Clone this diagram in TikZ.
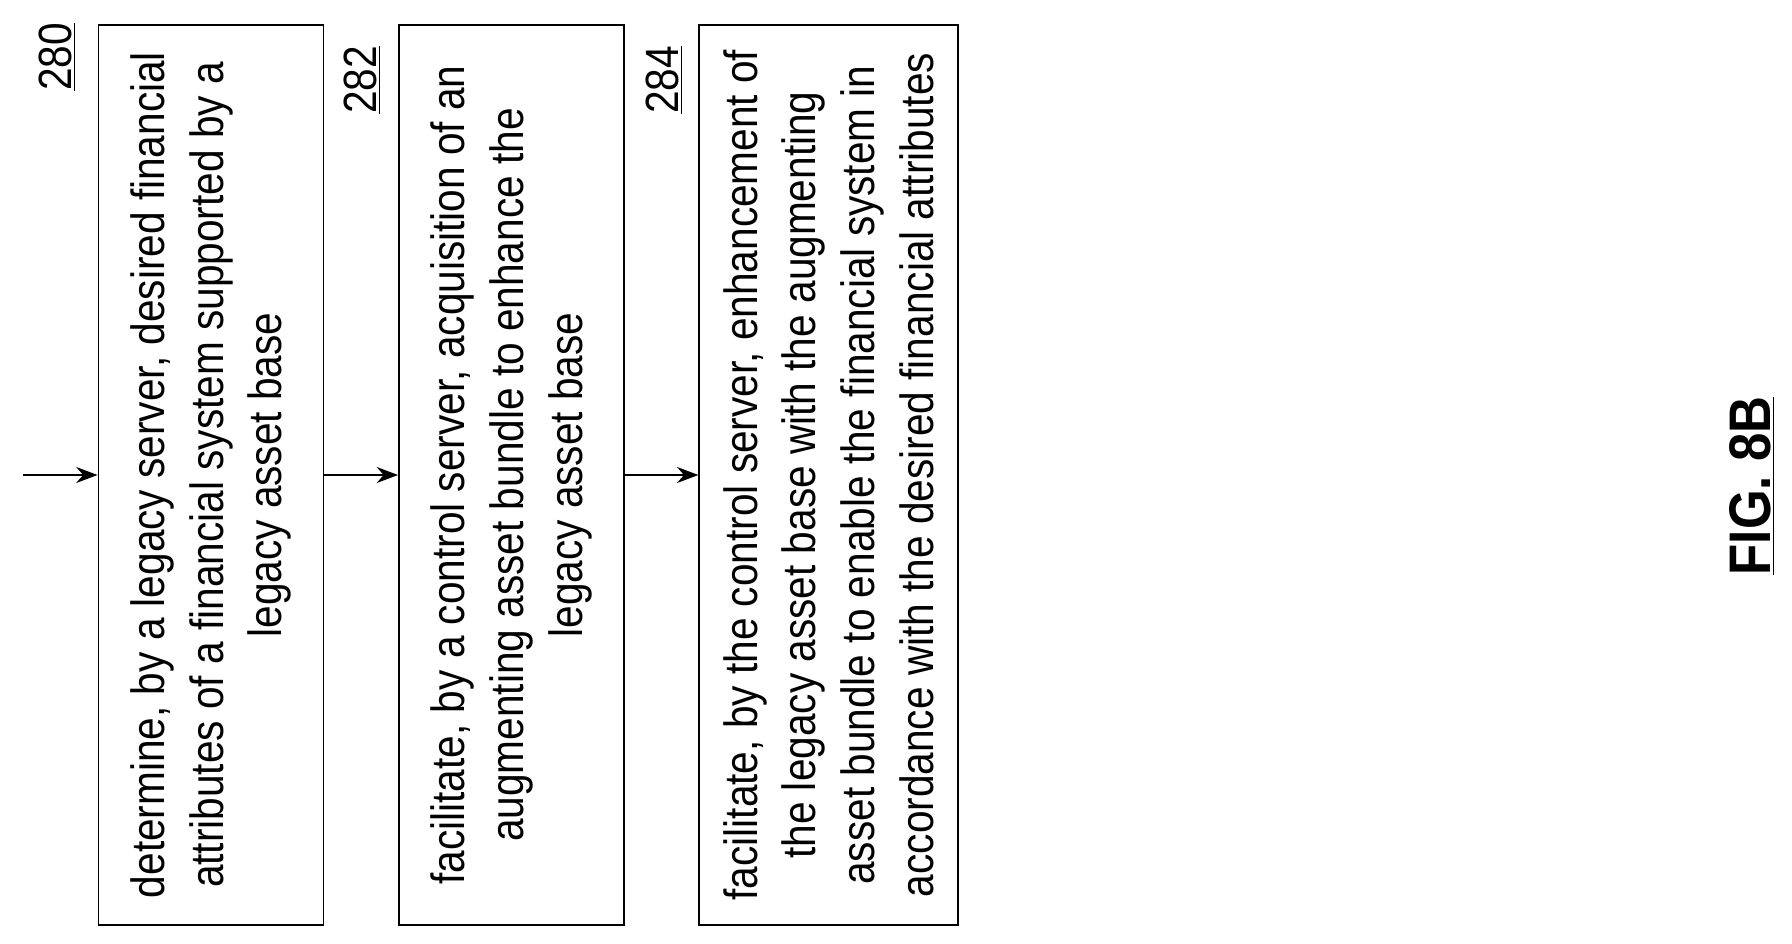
\documentclass[tikz,border=0pt]{standalone}
\usepackage{fontspec}
\setmainfont{Liberation Sans}[FakeStretch=0.87]
\usetikzlibrary{arrows.meta,positioning}
\tikzset{
  stepbox/.style={draw, line width=1.2pt, rotate=90, align=center, inner sep=0pt,
    minimum width=675pt, font=\fontsize{35}{44}\selectfont},
  reflabel/.style={rotate=90, font=\fontsize{35}{40}\selectfont},
  flow/.style={-{Stealth[length=16pt,width=12pt]}, line width=1.2pt}
}
\begin{document}
\begin{tikzpicture}[x=0.75pt, y=-0.75pt]
\useasboundingbox (0,0) rectangle (1792,944);

% steps
\node [stepbox, minimum height=169pt] (s280) at (211,475)
  {determine, by a legacy server, desired financial\\attributes of a financial system supported by a\\legacy asset base};
\node [stepbox, minimum height=169pt] (s282) at (511.5,475)
  {facilitate, by a control server, acquisition of an\\augmenting asset bundle to enhance the\\legacy asset base};
\node [stepbox, minimum height=194pt] (s284) at (828.5,475)
  {facilitate, by the control server, enhancement of\\the legacy asset base with the augmenting\\asset bundle to enable the financial system in\\accordance with the desired financial attributes};

% reference numbers
\node [reflabel] (n280) at (57,57) {\underline{280}};
\node [reflabel] (n282) at (362,80) {\underline{282}};
\node [reflabel] (n284) at (664,80) {\underline{284}};

% flow
\coordinate (start) at (23,475);
\draw [flow] (start) -- (s280.north);
\draw [flow] (s280.south) -- (s282.north);
\draw [flow] (s282.south) -- (s284.north);

\node [rotate=90, font=\bfseries\fontsize{44}{50}\selectfont] (fig) at (1752,486) {\underline{FIG. 8B}};
\end{tikzpicture}
\end{document}
